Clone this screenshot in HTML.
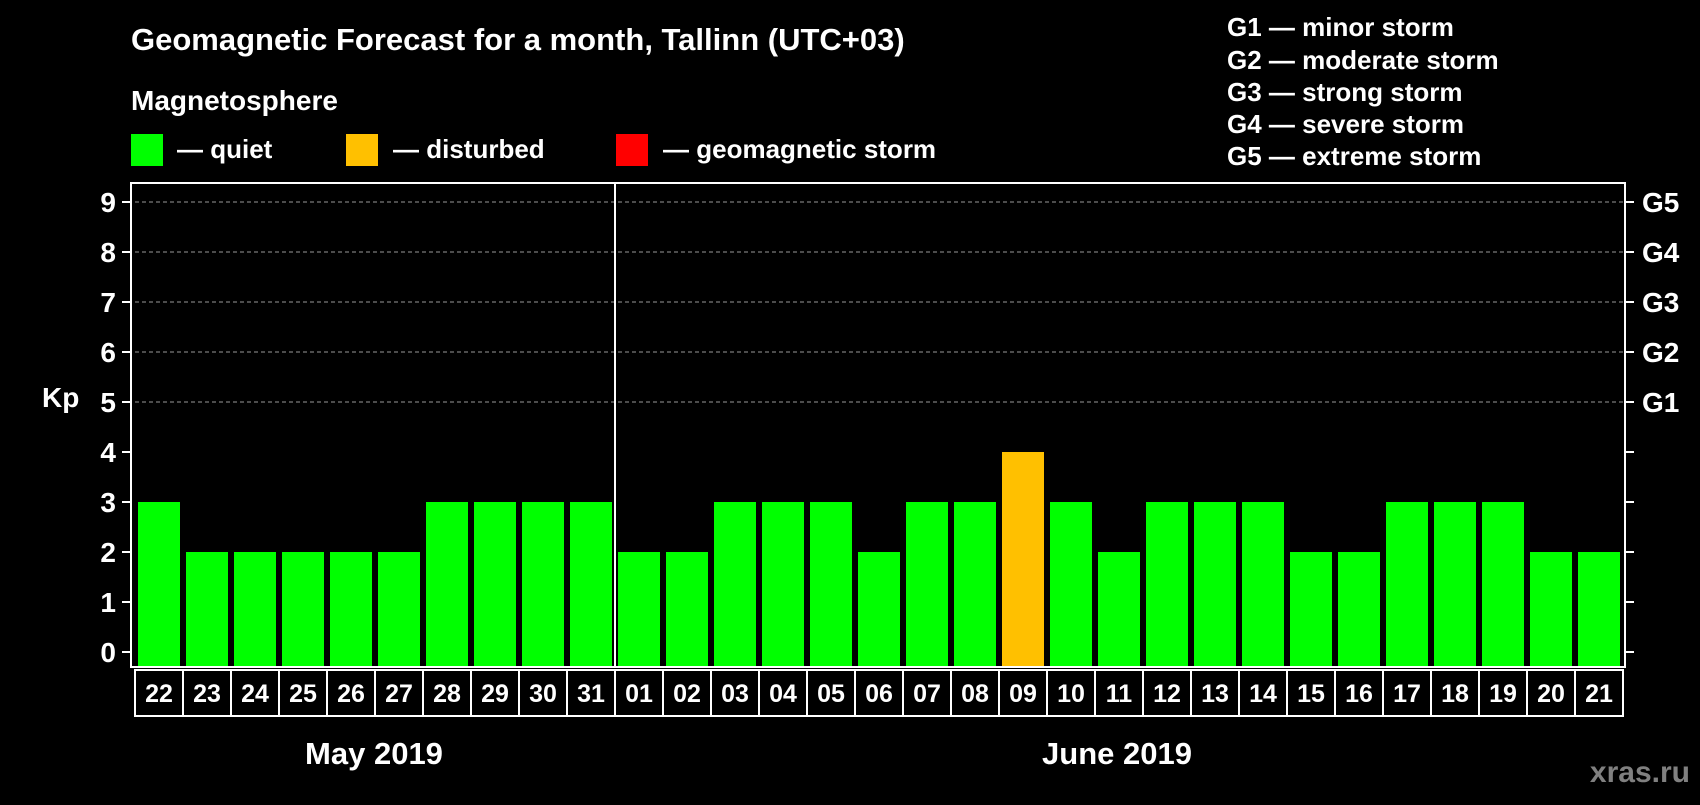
<!DOCTYPE html>
<html><head><meta charset="utf-8"><style>
body{margin:0;background:#000;width:1700px;height:800px;overflow:hidden;font-family:"Liberation Sans",Arial,sans-serif;font-weight:bold;color:#fff}
</style></head><body>
<svg width="1700" height="800" xmlns="http://www.w3.org/2000/svg" font-family="Liberation Sans, Arial, sans-serif" font-weight="bold">
<rect width="1700" height="800" fill="#000"/>
<text x="131" y="50" font-size="31" fill="#fff">Geomagnetic Forecast for a month, Tallinn (UTC+03)</text>
<text x="131" y="110" font-size="28" fill="#fff">Magnetosphere</text>
<g><rect x="131" y="134" width="32" height="32" fill="#00ff00"/><text x="177" y="158" font-size="26" fill="#fff">— quiet</text></g>
<g><rect x="346" y="134" width="32" height="32" fill="#ffc000"/><text x="393" y="158" font-size="26" fill="#fff">— disturbed</text></g>
<g><rect x="616" y="134" width="32" height="32" fill="#ff0000"/><text x="663" y="158" font-size="26" fill="#fff">— geomagnetic storm</text></g>
<g font-size="26" fill="#fff">
<text x="1227" y="36">G1 — minor storm</text>
<text x="1227" y="69">G2 — moderate storm</text>
<text x="1227" y="101">G3 — strong storm</text>
<text x="1227" y="133">G4 — severe storm</text>
<text x="1227" y="165">G5 — extreme storm</text>
</g>
<text x="42" y="407" font-size="28" fill="#fff">Kp</text>
<g id="plot"></g>
<text x="374" y="764" font-size="31" text-anchor="middle" fill="#fff">May 2019</text>
<text x="1117" y="764" font-size="31" text-anchor="middle" fill="#fff">June 2019</text>
<text x="1690" y="782" font-size="30" text-anchor="end" fill="#808080">xras.ru</text>
</svg>
<script>
const days=["22","23","24","25","26","27","28","29","30","31","01","02","03","04","05","06","07","08","09","10","11","12","13","14","15","16","17","18","19","20","21"];
const kp=[3,2,2,2,2,2,3,3,3,3,2,2,3,3,3,2,3,3,4,3,2,3,3,3,2,2,3,3,3,2,2];
const yTicks=[0,1,2,3,4,5,6,7,8,9];
const gLabels=["G1","G2","G3","G4","G5"];
const NS="http://www.w3.org/2000/svg";
const x0=135,slot=48,bw=42,yZero=652,unit=50,yTop=183,yBot=667;
const xs=i=>x0+i*slot;
const ys=v=>yZero-v*unit;
const g=document.getElementById('plot');
function mk(t,a){const e=document.createElementNS(NS,t);for(const k in a)e.setAttribute(k,a[k]);g.appendChild(e);return e;}
yTicks.forEach(v=>{
 const y=ys(v);
 if(v>=5){const l=mk('line',{x1:x0,x2:x0+31*slot,y1:y,y2:y,stroke:'#999','stroke-dasharray':'4,3','stroke-width':1});
 
 }
 const t1=mk('line',{x1:122,x2:131,y1:y,y2:y,stroke:'#fff','stroke-width':2});
 
 
 const t2=mk('line',{x1:1625,x2:1634,y1:y,y2:y,stroke:'#fff','stroke-width':2});
 
 
 const tx=mk('text',{x:116,y:y+10,'font-size':28,'text-anchor':'end',fill:'#fff'});tx.textContent=v;
 
 
});
gLabels.forEach((s,i)=>{const t=mk('text',{x:1642,y:ys(5+i)+10,'font-size':28,fill:'#fff'});t.textContent=s;
 
 });
kp.forEach((v,i)=>{
 const c=v>=5?'#ff0000':v>=4?'#ffc000':'#00ff00';
 const r=mk('rect',{x:xs(i)+3,y:ys(v),width:bw,height:yZero-ys(v)+14,fill:c});
 
 
 const b=mk('rect',{x:xs(i),y:670,width:slot,height:46,fill:'none',stroke:'#fff','stroke-width':2});
 
 
 const t=mk('text',{x:xs(i)+slot/2,y:702,'font-size':25,'text-anchor':'middle',fill:'#fff'});t.textContent=days[i];
 
 
});
const fr=mk('rect',{x:131,y:yTop,width:1494,height:yBot-yTop,fill:'none',stroke:'#fff','stroke-width':2});


const dv=mk('line',{x1:xs(10),x2:xs(10),y1:yTop,y2:yBot,stroke:'#fff','stroke-width':2});


</script>
</body></html>
